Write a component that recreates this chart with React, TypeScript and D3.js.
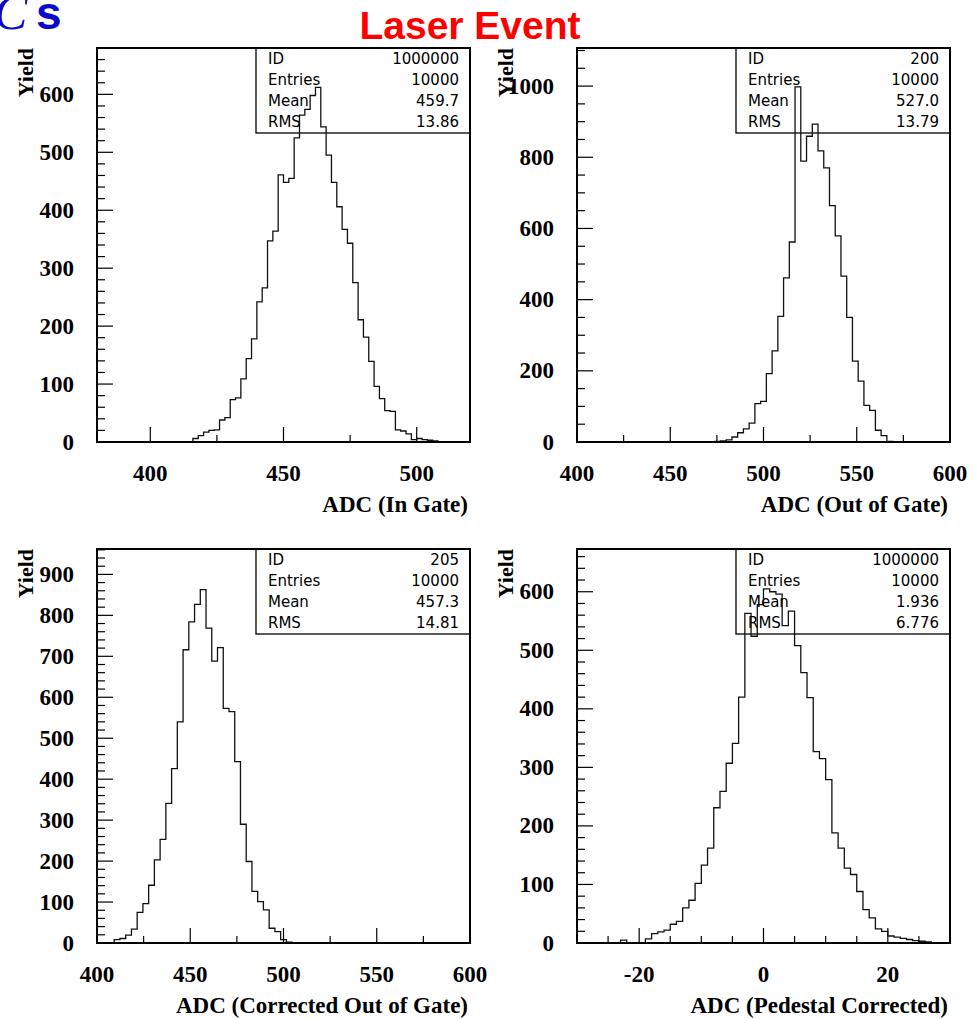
import React from 'react';
import * as d3 from 'd3';

// ---- data (bin counts) ----
// ADC (In Gate): 70 bins, 380..520 (width 2)
const inGateCounts = [
  0, 0, 0, 0, 0, 0, 0, 0, 0, 0, 0, 0, 0, 0, 0, 0, 0, 0,
  6, 11, 17, 20, 21, 38, 42, 73, 76, 109, 144, 178, 242, 266, 347, 364, 461, 448,
  455, 525, 564, 574, 598, 612, 544, 495, 448, 406, 367, 343, 275, 211, 181, 139,
  96, 75, 54, 53, 21, 19, 14, 4, 6, 4, 3, 2,
  0, 0, 0, 0, 0, 0,
];
// ADC (Out of Gate): 65 bins, 400..600
const outGateCounts = [
  0, 0, 0, 0, 0, 0, 0, 0, 0, 0, 0, 0, 0, 0, 0, 0, 0, 0, 0, 0, 0, 0, 0, 0,
  2, 3, 6, 14, 26, 37, 53, 108, 114, 192, 256, 353, 461, 562, 998, 789, 859, 893,
  818, 770, 664, 579, 466, 350, 227, 171, 103, 89, 33, 18, 2,
  0, 0, 0, 0, 0, 0, 0, 0, 0, 0,
];
// ADC (Corrected Out of Gate): 65 bins, 400..600
const corrOutGateCounts = [
  0, 0, 1,
  8, 11, 19, 34, 75, 96, 141, 203, 253, 341, 426, 540, 716, 784, 827, 863, 769, 688,
  721, 573, 565, 443, 290, 199, 126, 101, 81, 36, 28, 8, 2,
  0, 0, 0, 0, 0, 0, 0, 0, 0, 0, 0, 0, 0, 0, 0, 0, 0, 0, 0, 0, 0, 0, 0, 0, 0, 0, 0, 0, 0, 0, 0,
];
// ADC (Pedestal Corrected): 60 bins, -30..30 (width 1)
const pedCorrCounts = [
  0, 0, 0, 0, 0, 0, 0, 5, 0, 0, 0, 7, 16, 19, 22, 32, 37, 60, 73, 102,
  133, 162, 231, 259, 307, 341, 420, 563, 524, 578, 605, 600, 596, 542, 567, 508, 462, 419, 327, 315,
  279, 188, 162, 128, 117, 88, 57, 43, 24, 20, 12, 10, 8, 6, 4, 3, 2, 0, 0, 0,
];

const statLabels = ['ID', 'Entries', 'Mean', 'RMS'];
const inGateStats = ['1000000', '10000', '459.7', '13.86'];
const outGateStats = ['200', '10000', '527.0', '13.79'];
const corrOutGateStats = ['205', '10000', '457.3', '14.81'];
const pedCorrStats = ['1000000', '10000', '1.936', '6.776'];

const inGateXLabels = [400, 450, 500];
const gateXLabels = [400, 450, 500, 550, 600];
const pedXLabels = [-20, 0, 20];

const xTitles = ['ADC (In Gate)', 'ADC (Out of Gate)', 'ADC (Corrected Out of Gate)', 'ADC (Pedestal Corrected)'];
const yTitle = 'Yield';
const mainTitle = 'Laser Event';

// ---- layout ----
const PW = 373;
const PH = 394;
const serif = '"Liberation Serif", "Times New Roman", Times, serif';
const sans = '"DejaVu Sans", Verdana, sans-serif';

const panels = [
  { counts: inGateCounts, lo: 380, hi: 520, ymax: 680, x0: 97, y0: 48, xLabels: inGateXLabels, xMinor: 25, yMajor: 100, yMinor: 20, stats: inGateStats, title: xTitles[0] },
  { counts: outGateCounts, lo: 400, hi: 600, ymax: 1107, x0: 577, y0: 48, xLabels: gateXLabels, xMinor: 25, yMajor: 200, yMinor: 50, stats: outGateStats, title: xTitles[1] },
  { counts: corrOutGateCounts, lo: 400, hi: 600, ymax: 962, x0: 97, y0: 549, xLabels: gateXLabels, xMinor: 25, yMajor: 100, yMinor: 20, stats: corrOutGateStats, title: xTitles[2] },
  { counts: pedCorrCounts, lo: -30, hi: 30, ymax: 673, x0: 577, y0: 549, xLabels: pedXLabels, xMinor: 5, yMajor: 100, yMinor: 20, stats: pedCorrStats, title: xTitles[3] },
];

function Panel({ p }: { p: any }) {
  const x = d3.scaleLinear().domain([p.lo, p.hi]).range([p.x0, p.x0 + PW]);
  const y = d3.scaleLinear().domain([0, p.ymax]).range([p.y0 + PH, p.y0]);
  const n = p.counts.length;
  const w = (p.hi - p.lo) / n;
  const pts: [number, number][] = [[p.lo, 0]];
  p.counts.forEach((c: number, i: number) => pts.push([p.lo + i * w, c]));
  pts.push([p.hi, p.counts[n - 1]]);
  pts.push([p.hi, 0]);
  const line = d3.line<[number, number]>().x(d => x(d[0])).y(d => y(d[1])).curve(d3.curveStepAfter);

  const yMinorTicks = d3.range(0, p.ymax + 0.001, p.yMinor);
  const xMinorTicks = d3.range(Math.ceil(p.lo / p.xMinor) * p.xMinor, p.hi + 0.001, p.xMinor);
  const bottom = p.y0 + PH;
  const right = p.x0 + PW;
  const boxW = 214;
  const boxH = 85;
  const rowH = boxH / 4;

  return (
    <g>
      {yMinorTicks.map((v: number) => {
        const major = Math.abs(v / p.yMajor - Math.round(v / p.yMajor)) < 1e-6;
        return <line key={'yt' + v} x1={p.x0} x2={p.x0 + (major ? 16 : 8)} y1={y(v)} y2={y(v)} stroke="#000" strokeWidth={1.2} />;
      })}
      {xMinorTicks.map((v: number) => {
        const major = p.xLabels.includes(v);
        return <line key={'xt' + v} x1={x(v)} x2={x(v)} y1={bottom} y2={bottom - (major ? 15 : 7)} stroke="#000" strokeWidth={1.2} />;
      })}
      {d3.range(0, p.ymax + 0.001, p.yMajor).map((v: number) => (
        <text key={'yl' + v} x={p.x0 - 23} y={y(v)} textAnchor="end" dominantBaseline="central"
          fontFamily={serif} fontWeight="bold" fontSize={23}>{v}</text>
      ))}
      {p.xLabels.map((v: number) => (
        <text key={'xl' + v} x={x(v)} y={bottom + 31} textAnchor="middle" dominantBaseline="central"
          fontFamily={serif} fontWeight="bold" fontSize={23}>{v}</text>
      ))}
      <text transform={`translate(${p.x0 - 64},${p.y0}) rotate(-90)`} textAnchor="end"
        fontFamily={serif} fontWeight="bold" fontSize={22}>{yTitle}</text>
      <text x={right - 2} y={bottom + 70} textAnchor="end" fontFamily={serif} fontWeight="bold" fontSize={23}>{p.title}</text>

      <rect x={right - boxW} y={p.y0} width={boxW} height={boxH} fill="none" stroke="#000" strokeWidth={1.3} />
      {statLabels.map((l, i) => (
        <g key={'s' + i}>
          <text x={right - boxW + 12} y={p.y0 + rowH * (i + 0.5)} dominantBaseline="central" fontFamily={sans} fontSize={15}>{l}</text>
          <text x={right - 11} y={p.y0 + rowH * (i + 0.5)} textAnchor="end" dominantBaseline="central" fontFamily={sans} fontSize={15}>{p.stats[i]}</text>
        </g>
      ))}

      <path d={line(pts) || ''} fill="none" stroke="#111" strokeWidth={1.3} />
      <rect x={p.x0} y={p.y0} width={PW} height={PH} fill="none" stroke="#000" strokeWidth={2} />
    </g>
  );
}

export default function App() {
  return (
    <svg width={977} height={1019} style={{ position: 'absolute', left: 0, top: 0, background: '#fff' }}>
      <rect x={0} y={0} width={977} height={1019} fill="#fff" />
      <text x={-6} y={29} fontFamily={serif} fontStyle="italic" fontSize={50} fill="#0a0ac8">C</text>
      <text x={36} y={29} fontFamily='"Liberation Sans", Arial, sans-serif' fontWeight="bold" fontSize={46} fill="#0a0ac8">s</text>
      <text x={470} y={39} textAnchor="middle" fontFamily='"Liberation Sans", Arial, sans-serif' fontWeight="bold" fontSize={39} fill="#ff0000">{mainTitle}</text>
      {panels.map((p, i) => <Panel key={i} p={p} />)}
    </svg>
  );
}
